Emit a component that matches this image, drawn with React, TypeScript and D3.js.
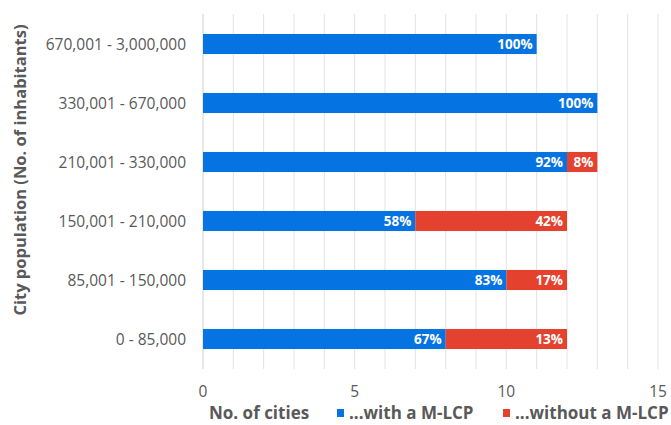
import React from "react";
import * as d3 from "d3";

const categories = [
  "670,001 - 3,000,000",
  "330,001 - 670,000",
  "210,001 - 330,000",
  "150,001 - 210,000",
  "85,001 - 150,000",
  "0 - 85,000",
];
const withMLCP = [11, 13, 12, 7, 10, 8];
const withoutMLCP = [0, 0, 1, 5, 2, 4];
const withLabels = ["100%", "100%", "92%", "58%", "83%", "67%"];
const withoutLabels = ["", "", "8%", "42%", "17%", "13%"];
const xTicks = [0, 5, 10, 15];
const seriesNames = ["...with a M-LCP", "...without a M-LCP"];

const W = 671;
const H = 425;
const BLUE = "#0673e3";
const RED = "#e5412f";
const FONT = "'Open Sans', sans-serif";

export default function App() {
  const x = d3.scaleLinear().domain([0, 15]).range([203, 658]);
  const y = d3
    .scaleBand<string>()
    .domain(categories)
    .range([14.5, 368.5])
    .paddingInner(0.66)
    .paddingOuter(0.33);
  const bh = y.bandwidth();
  const grid = d3.range(0, 16);

  return (
    <svg
      width={W}
      height={H}
      style={{ position: "absolute", left: 0, top: 0, background: "#fff" }}
      fontFamily={FONT}
    >
      {grid.map((g) => (
        <line
          key={g}
          x1={x(g)}
          x2={x(g)}
          y1={14}
          y2={369}
          stroke={g === 0 ? "#d0d0d0" : "#e2e2e2"}
          strokeWidth={1}
        />
      ))}
      {categories.map((c, i) => {
        const yy = y(c)!;
        const x0 = x(0);
        const x1 = x(withMLCP[i]);
        const x2 = x(withMLCP[i] + withoutMLCP[i]);
        return (
          <g key={c}>
            <rect x={x0} y={yy} width={x1 - x0} height={bh} fill={BLUE} />
            {withoutMLCP[i] > 0 && (
              <rect x={x1} y={yy} width={x2 - x1} height={bh} fill={RED} />
            )}
            <text
              x={x1 - 4}
              y={yy + bh / 2}
              dy="0.36em"
              textAnchor="end"
              fill="#fff"
              fontWeight="bold"
              fontSize={13.5}
            >
              {withLabels[i]}
            </text>
            {withoutLabels[i] && (
              <text
                x={x2 - 4}
                y={yy + bh / 2}
                dy="0.36em"
                textAnchor="end"
                fill="#fff"
                fontWeight="bold"
                fontSize={13.5}
              >
                {withoutLabels[i]}
              </text>
            )}
            <text
              x={186}
              y={yy + bh / 2}
              dy="0.36em"
              textAnchor="end"
              fill="#595959"
              fontSize={15.5}
            >
              {c}
            </text>
          </g>
        );
      })}
      {xTicks.map((t) => (
        <text
          key={t}
          x={x(t)}
          y={391}
          dy="0.36em"
          textAnchor="middle"
          fill="#595959"
          fontSize={15.5}
        >
          {t}
        </text>
      ))}
      <text
        transform={`translate(20,170) rotate(-90)`}
        textAnchor="middle"
        dy="0.36em"
        fill="#595959"
        fontWeight="bold"
        fontSize={16.5}
      >
        City population (No. of inhabitants)
      </text>
      <text x={209} y={413} dy="0.36em" fill="#595959" fontWeight="bold" fontSize={17}>
        No. of cities
      </text>
      <rect x={337} y={409} width={7} height={8} fill={BLUE} />
      <text x={349} y={413} dy="0.36em" fill="#595959" fontWeight="bold" fontSize={17}>
        {seriesNames[0]}
      </text>
      <rect x={503} y={409} width={7} height={8} fill={RED} />
      <text x={515} y={413} dy="0.36em" fill="#595959" fontWeight="bold" fontSize={17}>
        {seriesNames[1]}
      </text>
    </svg>
  );
}
